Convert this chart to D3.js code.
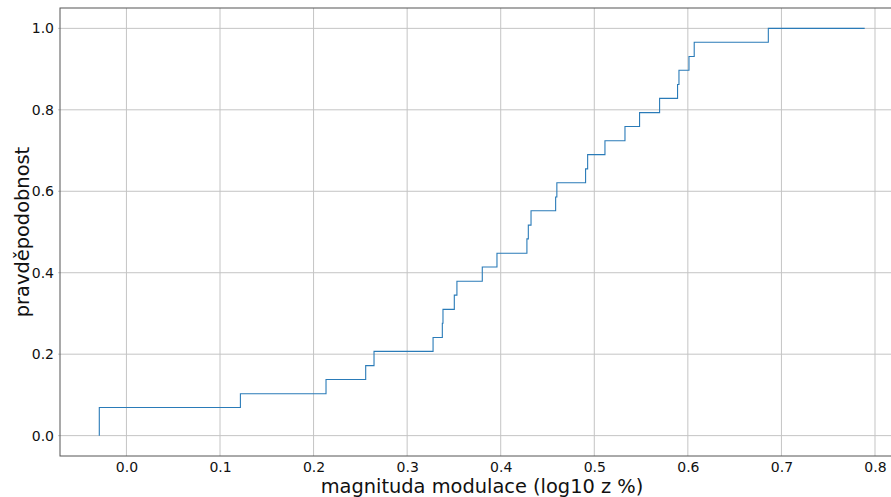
<!DOCTYPE html>
<html>
<head>
<meta charset="utf-8">
<script src="https://cdn.jsdelivr.net/npm/d3@7/dist/d3.min.js"></script>
<style>
  html, body { margin: 0; padding: 0; background: #fff; }
  svg { display: block; font-family: "DejaVu Sans", sans-serif; }
</style>
</head>
<body>
<div id="chart"></div>
<script>
// ECDF step positions (x where the curve jumps) and level after each jump
const stepX = [-0.029, 0.1218, 0.2133, 0.2557, 0.2646, 0.3277, 0.3376, 0.3383,
  0.3504, 0.3532, 0.3803, 0.396, 0.428, 0.4295, 0.4324, 0.4587, 0.4600,
  0.4907, 0.4929, 0.5114, 0.5328, 0.5484, 0.5698, 0.5890, 0.5905, 0.6012,
  0.6068, 0.686];
const stepY = [0.069, 0.103, 0.138, 0.172, 0.207, 0.241, 0.276, 0.310,
  0.345, 0.379, 0.414, 0.448, 0.483, 0.517, 0.552, 0.586, 0.621,
  0.655, 0.690, 0.724, 0.759, 0.793, 0.828, 0.862, 0.897, 0.931,
  0.966, 1.0];
const endX = 0.789;

const xTicks = [0, 0.1, 0.2, 0.3, 0.4, 0.5, 0.6, 0.7, 0.8];
const yTicks = [0, 0.2, 0.4, 0.6, 0.8, 1.0];
const xTitle = "magnituda modulace (log10 z %)";
const yTitle = "pravděpodobnost";

const W = 891, H = 497;
const mLeft = 60, mTop = 8, mRight = 904, mBottom = 456;

const svg = d3.select("#chart").append("svg")
  .attr("width", W).attr("height", H)
  .attr("viewBox", [0, 0, W, H]);

const x = d3.scaleLinear().domain([-0.071, 0.831]).range([mLeft, mRight]);
const y = d3.scaleLinear().domain([-0.05, 1.05]).range([mBottom, mTop]);

// grid
const grid = svg.append("g").attr("stroke", "#c4c4c4").attr("stroke-width", 1);
grid.selectAll("line.vx").data(xTicks).join("line")
  .attr("x1", d => x(d)).attr("x2", d => x(d))
  .attr("y1", mTop).attr("y2", mBottom);
grid.selectAll("line.hy").data(yTicks).join("line")
  .attr("x1", mLeft - 2).attr("x2", mRight)
  .attr("y1", d => y(d)).attr("y2", d => y(d));

// ECDF line
const pts = [[stepX[0], 0]].concat(stepX.map((v, i) => [v, stepY[i]]), [[endX, 1.0]]);
const line = d3.line().x(d => x(d[0])).y(d => y(d[1])).curve(d3.curveStepAfter);
svg.append("path")
  .datum(pts)
  .attr("d", line)
  .attr("fill", "none")
  .attr("stroke", "#2a7bb8")
  .attr("stroke-width", 1.1);

// frame
svg.append("rect")
  .attr("x", mLeft).attr("y", mTop)
  .attr("width", mRight - mLeft).attr("height", mBottom - mTop)
  .attr("fill", "none").attr("stroke", "#555").attr("stroke-width", 1);

// tick labels (no tick marks)
const xAxis = d3.axisBottom(x).tickValues(xTicks).tickFormat(d3.format(".1f")).tickSize(0).tickPadding(6);
svg.append("g").attr("transform", `translate(0,${mBottom})`).call(xAxis)
  .call(g => g.select(".domain").remove())
  .call(g => g.selectAll("text").attr("font-size", 14).attr("fill", "#111").attr("font-family", "DejaVu Sans"));

const yAxis = d3.axisLeft(y).tickValues(yTicks).tickFormat(d3.format(".1f")).tickSize(0).tickPadding(6);
svg.append("g").attr("transform", `translate(${mLeft},0)`).call(yAxis)
  .call(g => g.select(".domain").remove())
  .call(g => g.selectAll("text").attr("font-size", 14).attr("fill", "#111").attr("font-family", "DejaVu Sans"));

svg.append("text")
  .attr("x", (mLeft + mRight) / 2).attr("y", 493)
  .attr("text-anchor", "middle")
  .attr("font-size", 19.4).attr("fill", "#111")
  .text(xTitle);

svg.append("text")
  .attr("transform", `translate(29,${(mTop + mBottom) / 2}) rotate(-90)`)
  .attr("text-anchor", "middle")
  .attr("font-size", 19.4).attr("fill", "#111")
  .text(yTitle);
</script>
</body>
</html>
